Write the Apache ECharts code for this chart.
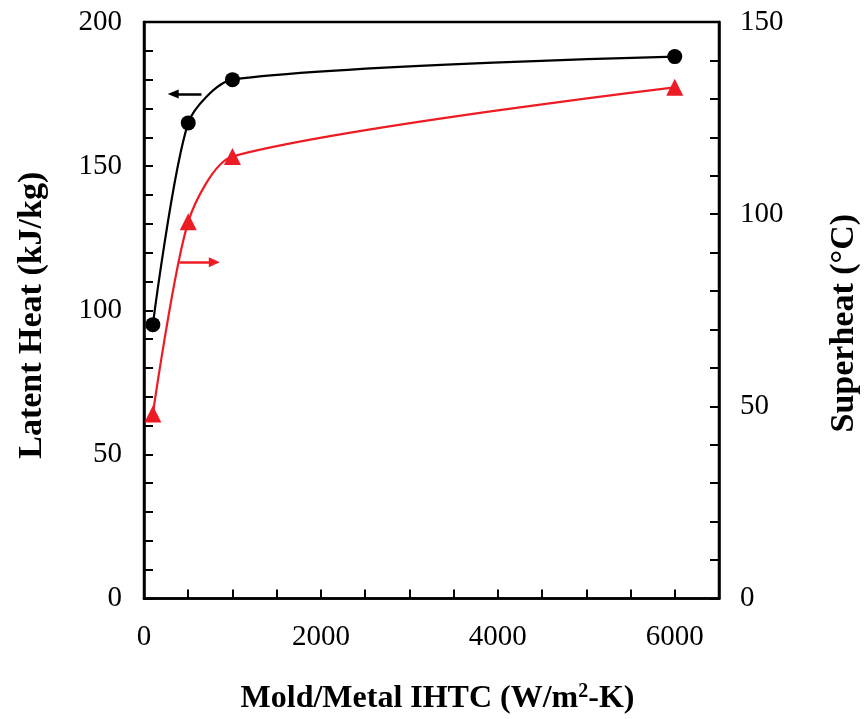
<!DOCTYPE html>
<html>
<head>
<meta charset="utf-8">
<script src="https://cdn.jsdelivr.net/npm/echarts@6/dist/echarts.min.js"></script>
<style>html,body{margin:0;padding:0;background:#fff}#c{width:865px;height:719px}</style>
</head>
<body>
<div id="c"></div>
<script>
// IHTC values (W/m2-K)
const ihtc = [100, 500, 1000, 6000];
// Latent heat (kJ/kg), left axis
const latentHeat = [95, 165, 180, 188];
// Superheat (°C), right axis
const superheat = [48, 98, 115, 133];
// axis tick labels
const xTickLabels = [0, 2000, 4000, 6000];
const leftTickLabels = [0, 50, 100, 150, 200];
const rightTickLabels = [0, 50, 100, 150];
// annotation arrows (data space)
const latentArrow = [[650, 175], [330, 175]];
const superArrow = [[400, 87.5], [795, 87.5]];

const RED = '#ed1c24';
const FONT = 'Liberation Serif';

const chart = echarts.init(document.getElementById('c'), null, {renderer: 'canvas'});
const pair = (xs, ys) => xs.map((x, i) => [x, ys[i]]);

const option = {
  animation: false,
  backgroundColor: '#fff',
  grid: {left: 144, right: 146, top: 22, bottom: 120.5, containLabel: false, outerBoundsMode: 'none',
         show: true, borderColor: '#000', borderWidth: 2.5, backgroundColor: 'transparent'},
  xAxis: {
    type: 'value', min: 0, max: 6500, interval: 500,
    axisLine: {show: true, lineStyle: {color: '#000', width: 2.5}},
    axisTick: {show: true, inside: true, length: 9, lineStyle: {color: '#000', width: 2}},
    splitLine: {show: false},
    axisLabel: {
      margin: 24, color: '#000', fontFamily: FONT, fontSize: 29,
      formatter: v => xTickLabels.includes(v) ? String(v) : ''
    },
    name: '{a|Mold/Metal IHTC (W/m}{s|2}{a|-K)}',
    nameLocation: 'middle', nameGap: 83,
    nameTextStyle: {
      padding: [0, 0, 0, 12],
      rich: {
        a: {fontFamily: FONT, fontSize: 32, fontWeight: 'bold', color: '#000'},
        s: {fontFamily: FONT, fontSize: 20, fontWeight: 'bold', color: '#000', verticalAlign: 'top', padding: [0, 0, 14, 0]}
      }
    }
  },
  yAxis: [
    {
      type: 'value', min: 0, max: 200, interval: 10, position: 'left',
      axisLine: {show: true, lineStyle: {color: '#000', width: 2.5}},
      axisTick: {show: true, inside: true, length: 9, lineStyle: {color: '#000', width: 2}},
      splitLine: {show: false},
      axisLabel: {
        margin: 22, color: '#000', fontFamily: FONT, fontSize: 29,
        formatter: v => leftTickLabels.includes(v) ? String(v) : ''
      },
      name: 'Latent Heat (kJ/kg)', nameLocation: 'middle', nameGap: 95, nameRotate: 90,
      nameTextStyle: {fontFamily: FONT, fontSize: 34, fontWeight: 'bold', color: '#000', padding: [0, 10, 0, 0]}
    },
    {
      type: 'value', min: 0, max: 150, interval: 10, position: 'right',
      axisLine: {show: true, lineStyle: {color: '#000', width: 2.5}},
      axisTick: {show: true, inside: true, length: 9, lineStyle: {color: '#000', width: 2}},
      splitLine: {show: false},
      axisLabel: {
        margin: 21, color: '#000', fontFamily: FONT, fontSize: 29,
        formatter: v => rightTickLabels.includes(v) ? String(v) : ''
      },
      name: 'Superheat (\u00B0C)', nameLocation: 'middle', nameGap: 108, nameRotate: 90,
      nameTextStyle: {fontFamily: FONT, fontSize: 34, fontWeight: 'bold', color: '#000', padding: [0, 26, 0, 0]}
    }
  ],
  series: [
    {
      type: 'line', yAxisIndex: 0, data: pair(ihtc, latentHeat),
      smooth: 0.25, symbol: 'circle', symbolSize: 15,
      lineStyle: {color: '#000', width: 2.2}, itemStyle: {color: '#000'},
      markLine: {
        silent: true, symbol: ['none', 'triangle'], symbolSize: [9, 11],
        label: {show: false},
        lineStyle: {color: '#000', width: 2.5, type: 'solid'},
        data: [[{coord: latentArrow[0]}, {coord: latentArrow[1]}]]
      }
    },
    {
      type: 'line', yAxisIndex: 1, data: pair(ihtc, superheat),
      smooth: 0.25, symbol: 'triangle', symbolSize: 17,
      lineStyle: {color: RED, width: 2.2}, itemStyle: {color: RED},
      markLine: {
        silent: true, symbol: ['none', 'triangle'], symbolSize: [10, 11],
        label: {show: false},
        lineStyle: {color: RED, width: 2.5, type: 'solid'},
        data: [[{coord: superArrow[0]}, {coord: superArrow[1]}]]
      }
    }
  ]
};
chart.setOption(option);
</script>
</body>
</html>
